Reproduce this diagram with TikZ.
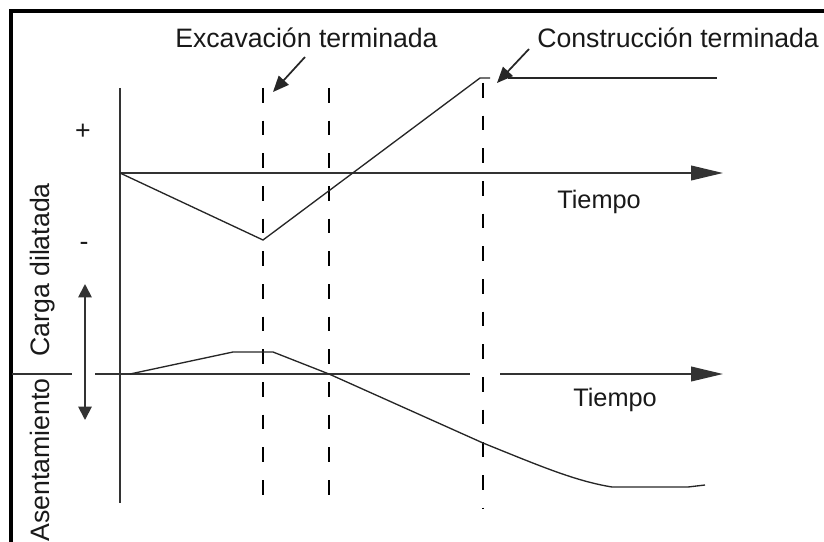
\documentclass[tikz,border=0pt]{standalone}
\usepackage{fontspec}
\setmainfont{Liberation Sans}
\usetikzlibrary{arrows.meta}
\begin{document}
\begin{tikzpicture}[x=0.75pt,y=-0.75pt,
    axis/.style={draw=black!80,line width=1.4pt},
    curve/.style={draw=black!85,line width=1pt},
    guide/.style={draw=black,line width=1pt,dash pattern=on 11pt off 13.5pt},
    lbl/.style={font=\fontsize{20}{24}\selectfont,text=black!90,inner sep=0pt},
    tlbl/.style={font=\fontsize{19}{23}\selectfont,text=black!90,inner sep=0pt}]
  \useasboundingbox (0,0) rectangle (824,542);
  \draw[line width=2.6pt] (11,542) -- (11,11) -- (824,11);
  \path
    (120,88) coordinate (v0)
    (120,503) coordinate (v1)
    (120,173) coordinate (o)
    (723,173) coordinate (t1)
    (12,374) coordinate (l0)
    (72,374) coordinate (l1)
    (95,374) coordinate (l2)
    (470,374) coordinate (l3)
    (500,374) coordinate (l4)
    (723,374) coordinate (l5)
    (263,88) coordinate (e0)
    (263,497) coordinate (e1)
    (329,88) coordinate (m0)
    (329,495) coordinate (m1)
    (483,83) coordinate (c0)
    (483,509) coordinate (c1)
    (263,240) coordinate (p1)
    (480,78) coordinate (p2)
    (490,78) coordinate (p3)
    (508,78) coordinate (p4)
    (717,78) coordinate (p5)
    (130,374) coordinate (q0)
    (233,352) coordinate (q1)
    (273,352) coordinate (q2)
    (329,374) coordinate (q3)
    (483,443) coordinate (q4)
    (612,487) coordinate (q5)
    (688,487) coordinate (q6)
    (705,485) coordinate (q7)
    (85,420) coordinate (d0)
    (85,284) coordinate (d1);
  \path
    (175,48) node[lbl,anchor=base west] (exc) {Excavación terminada}
    (537,48) node[lbl,anchor=base west] (con) {Construcción terminada}
    (557,208) node[tlbl,anchor=base west] (tie1) {Tiempo}
    (573,406) node[tlbl,anchor=base west] (tie2) {Tiempo}
    (83,132) node[lbl] (plus) {+}
    (84,246) node[lbl] (minus) {-}
    (49,270) node[lbl,rotate=90,anchor=base] (carga) {Carga dilatada}
    (49,460) node[lbl,rotate=90,anchor=base] (asen) {Asentamiento};
  % ejes
  \begin{scope}[axis]
    \draw (v0) -- (v1);
    \draw[-{Triangle[length=24pt,width=11pt]}] (o) -- (t1);
    \draw (l0) -- (l1);
    \draw (l2) -- (l3);
    \draw[-{Triangle[length=24pt,width=11pt]}] (l4) -- (l5);
    \draw[{Triangle[length=10pt,width=10pt]}-{Triangle[length=10pt,width=10pt]}] (d0) -- (d1);
  \end{scope}
  % lineas de referencia
  \begin{scope}[guide]
    \draw (e0) -- (e1);
    \draw (m0) -- (m1);
    \draw (c0) -- (c1);
  \end{scope}
  % curvas
  \begin{scope}[curve]
    \draw (o) -- (p1) -- (p2) -- (p3);
    \draw (p4) -- (p5);
    \draw (q0) -- (q1) -- (q2) -- (q3) -- (q4)
      .. controls (540,466) and (575,481) .. (q5) -- (q6) -- (q7);
  \end{scope}
  \begin{scope}[draw=black!85,line width=1.3pt,-{Triangle[length=12pt,width=10pt]}]
    \draw (305,57) coordinate (a0) -- (273,92) coordinate (a1);
    \draw (529,49) coordinate (b0) -- (497,83) coordinate (b1);
  \end{scope}
\end{tikzpicture}
\end{document}
